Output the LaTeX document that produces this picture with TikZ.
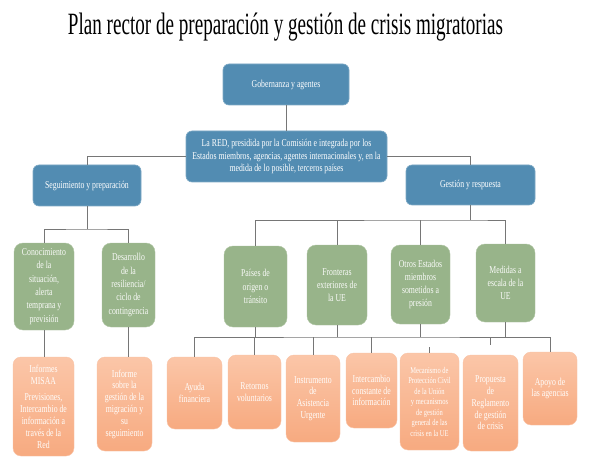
\documentclass[tikz,border=0pt]{standalone}
\usepackage{fontspec}
\usepackage{graphicx}
\setmainfont{Liberation Serif}
\newfontfamily\boxfont[FakeStretch=0.74]{Liberation Serif}
\definecolor{boxblue}{RGB}{82,140,178}
\definecolor{boxgreen}{RGB}{152,180,138}
\definecolor{orangetop}{RGB}{251,198,168}
\definecolor{orangebot}{RGB}{247,170,128}
\definecolor{lineg}{RGB}{118,118,118}

\begin{document}
\begin{tikzpicture}[x=1pt, y=-1pt,
    sz/.style 2 args={minimum width=#1pt, minimum height=#2pt},
    blueBox/.style={rounded corners=6pt, fill=boxblue, draw=boxblue!75!white, line width=0.6pt, text=white, align=center, inner sep=1pt, font=\boxfont\fontsize{10.5}{12.5}\selectfont},
    greenBox/.style={rounded corners=9pt, fill=boxgreen, draw=boxgreen!80!white, line width=0.4pt, text=white!94!boxgreen, align=center, inner sep=1pt, font=\boxfont\fontsize{10.5}{13.3}\selectfont},
    orangeBox/.style={rounded corners=8pt, top color=orangetop, bottom color=orangebot, draw=orangebot!70!white, line width=0.4pt, text=white!96!orangetop, align=center, inner sep=1pt, font=\boxfont\fontsize{10.5}{11.8}\selectfont},
    conn/.style={draw=lineg, line width=0.9pt}]
    \useasboundingbox (0,0) rectangle (594,473);
    \fill [white] (0,0) rectangle (594,473);

    \node [anchor=base] (title) at (285.5,35) {\resizebox{435pt}{\height}{\fontsize{31}{31}\selectfont Plan rector de preparación y gestión de crisis migratorias}};

    \node [blueBox, sz={126}{41}] (gob) at (286,84.5) {Gobernanza y agentes};
    \node [blueBox, sz={201}{51}] (red) at (286.5,156.5) {La RED, presidida por la Comisión e integrada por los\\Estados miembros, agencias, agentes internacionales y, en la\\medida de lo posible, terceros países};
    \node [blueBox, sz={108}{41}] (seg) at (87,185.5) {Seguimiento y preparación};
    \node [blueBox, sz={129}{40}] (ges) at (470.5,185) {Gestión y respuesta};

    \node [greenBox, sz={60}{87}] (con) at (44,286.5) {Conocimiento\\de la\\situación,\\alerta\\temprana y\\previsión};
    \node [greenBox, sz={53}{84}] (des) at (128.5,285) {Desarrollo\\de la\\resiliencia/\\ciclo de\\contingencia};
    \node [greenBox, sz={63}{81}] (pai) at (255.5,286.5) {Países de\\origen o\\tránsito};
    \node [greenBox, sz={60}{80}] (fro) at (337,285) {Fronteras\\exteriores de\\la UE};
    \node [greenBox, sz={59}{79}] (otr) at (420.5,284.5) {Otros Estados\\miembros\\sometidos a\\presión};
    \node [greenBox, sz={59}{78}] (med) at (505.5,283) {Medidas a\\escala de la\\UE};

    \node [orangeBox, sz={61}{99}] (inf) at (43.5,406.5) {Informes\\MISAA\\[5pt]Previsiones,\\Intercambio de\\información a\\través de la\\Red};
    \node [orangeBox, sz={55}{94}] (sob) at (124.5,404) {Informe\\sobre la\\gestión de la\\migración y\\su\\seguimiento};
    \node [orangeBox, sz={55}{72}] (ayu) at (194.5,393) {Ayuda\\financiera};
    \node [orangeBox, sz={53}{74}] (ret) at (254.5,392) {Retornos\\voluntarios};
    \node [orangeBox, sz={54}{87}] (ins) at (313,398.5) {Instrumento\\de\\Asistencia\\Urgente};
    \node [orangeBox, sz={51}{75}] (int) at (371.5,390.5) {Intercambio\\constante de\\información};
    \node [orangeBox, sz={59}{97}, font=\boxfont\fontsize{8.8}{10.5}\selectfont] (mec) at (429.5,401.5) {Mecanismo de\\Protección Civil\\de la Unión\\y mecanismos\\de gestión\\general de las\\crisis en la UE};
    \node [orangeBox, sz={55}{96}] (pro) at (490.5,403) {Propuesta\\de\\Reglamento\\de gestión\\de crisis};
    \node [orangeBox, sz={54}{73}] (apo) at (550,388.5) {Apoyo de\\las agencias};

    \coordinate (segbus) at (87,229);
    \coordinate (gesbus) at (470.5,220);
    \coordinate (lowbus) at (371,337);

    \draw [conn] (gob.south) -- (gob.south |- red.north);
    \draw [conn] (red.west) -| (seg.north);
    \draw [conn] (red.east) -| (ges.north);
    \draw [conn] (seg.south) -- (segbus);
    \draw [conn] (con.north) |- (segbus) -| (des.north);
    \draw [conn] (ges.south) -- (gesbus);
    \draw [conn] (pai.north) |- (gesbus) -| (med.north);
    \draw [conn] (fro.north) -- (fro.north |- gesbus);
    \draw [conn] (otr.north) -- (otr.north |- gesbus);

    \draw [conn] (con.south) -- (con.south |- inf.north);
    \draw [conn] (des.south) -- (des.south |- sob.north);

    \draw [conn] (pai.south) -- (pai.south |- lowbus);
    \draw [conn] (fro.south) -- (fro.south |- lowbus);
    \draw [conn] (otr.south) -- (otr.south |- lowbus);
    \draw [conn] (med.south) -- (med.south |- lowbus);
    \draw [conn] (ayu.north) |- (lowbus) -| (apo.north);
    \draw [conn] (ret.north) -- (ret.north |- lowbus);
    \draw [conn] (ins.north) -- (ins.north |- lowbus);
    \draw [conn] (int.north) -- (int.north |- lowbus);
    \draw [conn] (mec.north) -- ++(0,-6);
    \draw [conn] (pro.north |- lowbus) -- ++(0,8);
\end{tikzpicture}
\end{document}
